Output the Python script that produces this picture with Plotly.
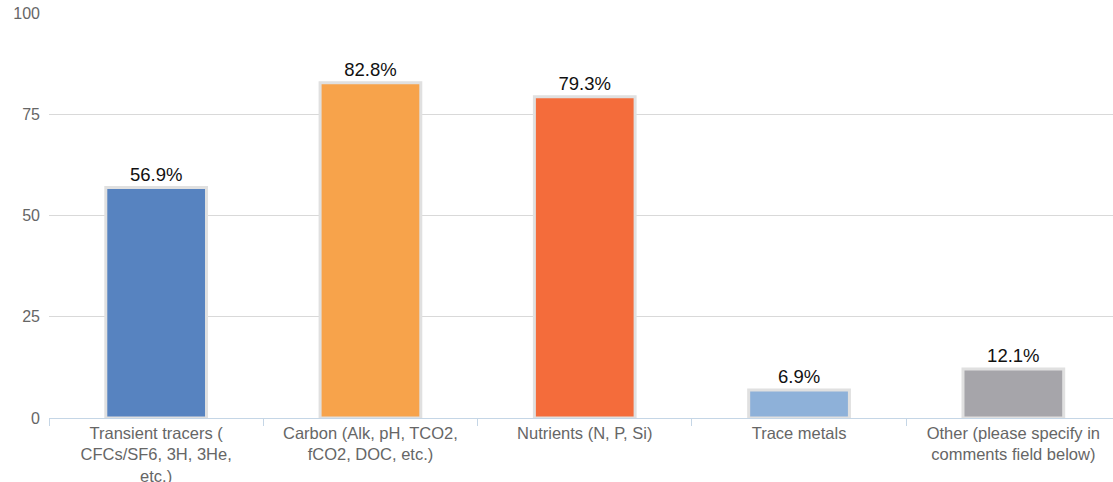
import plotly.graph_objects as go

categories = [
    "Transient tracers (<br>CFCs/SF6, 3H, 3He,<br>etc.)",
    "Carbon (Alk, pH, TCO2,<br>fCO2, DOC, etc.)",
    "Nutrients (N, P, Si)",
    "Trace metals",
    "Other (please specify in<br>comments field below)",
]
values = [56.9, 82.8, 79.3, 6.9, 12.1]
colors = ["#5783c0", "#f7a34b", "#f46c3b", "#8eb1d9", "#a6a5aa"]
y_ticks = [0, 25, 50, 75, 100]

fig = go.Figure(
    go.Bar(
        x=categories,
        y=values,
        marker=dict(color=colors, line=dict(color="#e0e0e0", width=3)),
        width=0.47,
        texttemplate="%{y:.1f}%",
        textposition="outside",
        textfont=dict(family="Liberation Sans, Arial, sans-serif", size=18.5, color="#111111"),
        cliponaxis=False,
    )
)

fig.update_layout(
    width=1113,
    height=482,
    margin=dict(l=49, r=0, t=13, b=64),
    paper_bgcolor="white",
    plot_bgcolor="white",
    showlegend=False,
    font=dict(family="Liberation Sans, Arial, sans-serif", color="#666666"),
    xaxis=dict(
        range=[-0.5, 4.465],
        automargin=False,
        tickson="boundaries",
        ticks="outside",
        ticklen=7,
        tickcolor="#c5d6e6",
        showline=True,
        linecolor="#c5d6e6",
        linewidth=1,
        tickfont=dict(size=16.5, color="#666666"),
        showgrid=False,
    ),
    yaxis=dict(
        range=[0, 100],
        automargin=False,
        tickvals=y_ticks,
        showgrid=True,
        gridcolor="#d9d9d9",
        gridwidth=1,
        zeroline=False,
        tickfont=dict(size=16, color="#666666"),
        ticklabelstandoff=8,
    ),
)

fig.write_html("out.html")
